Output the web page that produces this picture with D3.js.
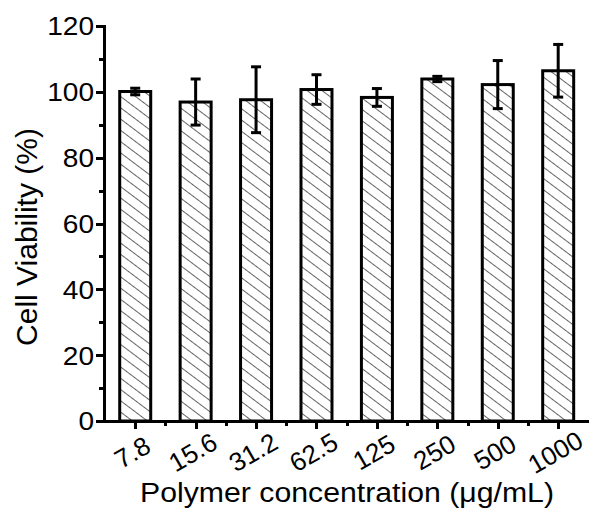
<!DOCTYPE html>
<html><head><meta charset="utf-8">
<script src="https://cdn.jsdelivr.net/npm/d3@7"></script>
<style>body{margin:0;background:#fff;} svg{display:block;} text{font-family:"Liberation Sans",Arial,sans-serif;fill:#000;}</style>
</head><body>
<script>
const categories = ["7.8","15.6","31.2","62.5","125","250","500","1000"];
const viability = [100.1, 96.9, 97.6, 100.7, 98.3, 103.9, 102.2, 106.4];
const errors = [1.0, 7.0, 10.0, 4.5, 2.7, 0.8, 7.3, 8.0];
const yMajorTicks = [0,20,40,60,80,100,120];
const yMinorTicks = [10,30,50,70,90,110];

const W = 589, H = 512;
const svg = d3.select("body").append("svg").attr("width", W).attr("height", H);

const x = d3.scaleBand().domain(categories).range([105, 588.4]).paddingInner(0.487).paddingOuter(0.2435);
const y = d3.scaleLinear().domain([0,120]).range([421, 26]);
const AX = 103;

const defs = svg.append("defs");
const pat = defs.append("pattern").attr("id","hatch").attr("patternUnits","userSpaceOnUse")
  .attr("width",20).attr("height",9).attr("patternTransform","rotate(37)");
pat.append("rect").attr("width",20).attr("height",9).attr("fill","#fff");
pat.append("line").attr("x1",0).attr("x2",20).attr("y1",4.5).attr("y2",4.5).attr("stroke","#666").attr("stroke-width",1);

svg.append("g").selectAll("rect").data(categories).join("rect")
  .attr("x", d=>x(d)).attr("width", x.bandwidth())
  .attr("y", (d,i)=>y(viability[i])).attr("height", (d,i)=>y(0)-y(viability[i]))
  .attr("fill","url(#hatch)").attr("stroke","#000").attr("stroke-width",3);

const eg = svg.append("g").attr("stroke","#000").attr("stroke-width",3);
categories.forEach((c,i)=>{
  const cx = x(c)+x.bandwidth()/2;
  const top = y(viability[i]+errors[i]), bot = y(viability[i]-errors[i]);
  eg.append("line").attr("x1",cx).attr("x2",cx).attr("y1",top).attr("y2",bot);
  eg.append("line").attr("x1",cx-5).attr("x2",cx+5).attr("y1",top).attr("y2",top);
  eg.append("line").attr("x1",cx-5).attr("x2",cx+5).attr("y1",bot).attr("y2",bot);
});

const X0 = Math.round(y(0));
const axisPath = "M"+(AX+1.5)+","+(Math.round(y(120))-1)+"V"+(X0+0.5)+"H"+W;
svg.append("path").attr("d",axisPath).attr("fill","none").attr("stroke","#000").attr("stroke-width",3);

const yg = svg.append("g");
yg.selectAll(".maj").data(yMajorTicks).join("rect").attr("class","maj")
  .attr("x",AX-7).attr("width",7).attr("y",d=>Math.round(y(d))-1).attr("height",3).attr("fill","#000");
yg.selectAll(".min").data(yMinorTicks).join("rect").attr("class","min")
  .attr("x",AX-4).attr("width",4).attr("y",d=>Math.round(y(d))-1).attr("height",3).attr("fill","#000");
yg.selectAll(".lbl").data(yMajorTicks).join("text").attr("class","lbl")
  .attr("transform",d=>"translate("+(AX-9)+","+y(d)+") scale(1.08,1)")
  .attr("text-anchor","end").attr("dy","0.36em").attr("font-size",26).text(d=>d3.format("d")(d));

const xg = svg.append("g");
xg.selectAll(".maj").data(categories).join("rect").attr("class","maj")
  .attr("x",d=>Math.round(x(d)+x.bandwidth()/2)-1).attr("width",3).attr("y",X0).attr("height",8).attr("fill","#000");
xg.selectAll(".min").data(categories.slice(1)).join("rect").attr("class","min")
  .attr("x",d=>Math.round(x(d)-x.step()*x.paddingInner()/2)-1).attr("width",3).attr("y",X0).attr("height",5).attr("fill","#000");
xg.selectAll(".lbl").data(categories).join("text").attr("class","lbl")
  .attr("transform",d=>"translate("+(x(d)+x.bandwidth()/2-3)+","+(X0+31)+") rotate(-30)")
  .attr("text-anchor","middle").attr("dy","0.36em").attr("font-size",26).text(d=>d);

svg.append("text").attr("transform","translate(347,502) scale(1.12,1)")
  .attr("text-anchor","middle").attr("font-size",27).text("Polymer concentration (μg/mL)");
svg.append("text").attr("transform","translate(37,237) rotate(-90)")
  .attr("text-anchor","middle").attr("font-size",30).text("Cell Viability (%)");
</script>
</body></html>
